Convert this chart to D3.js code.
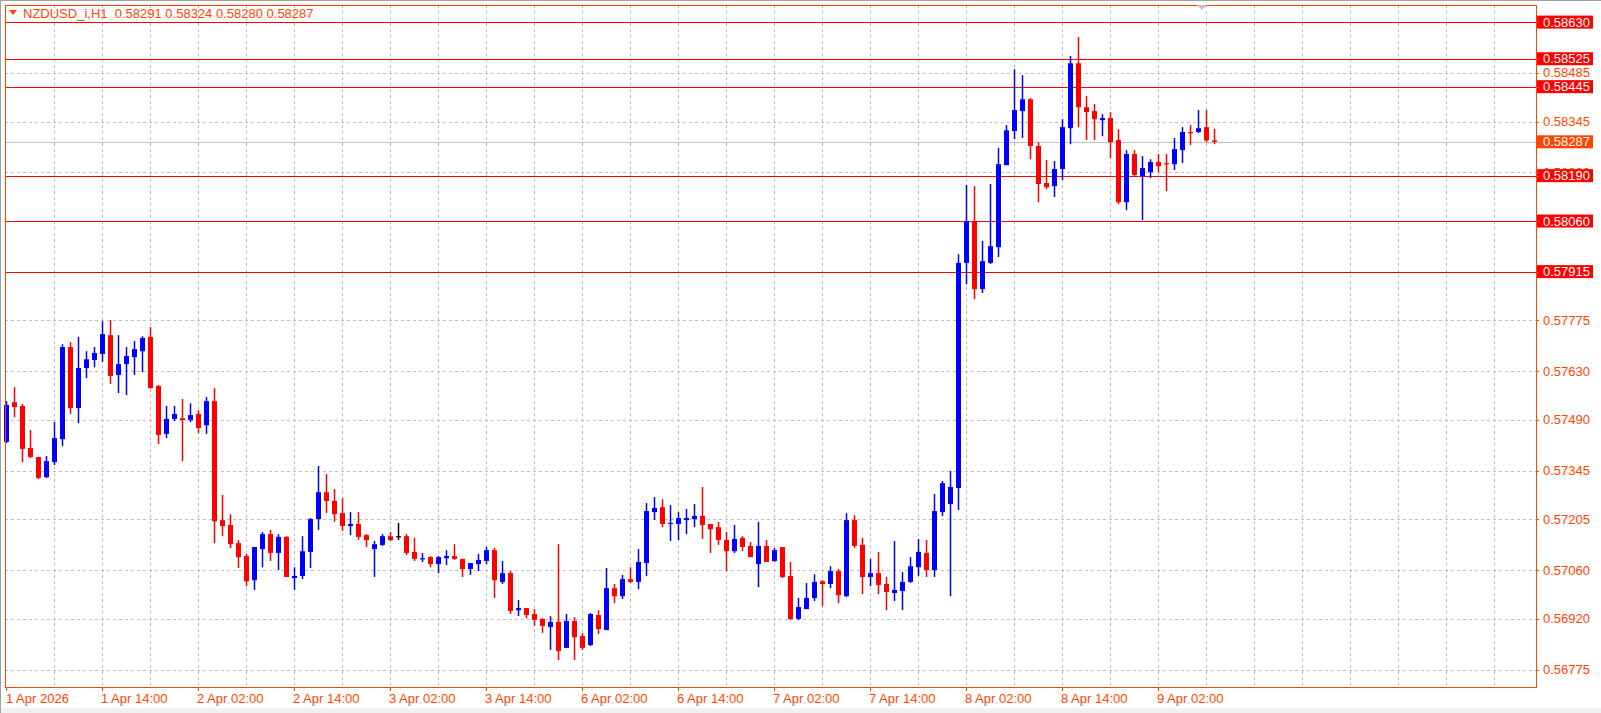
<!DOCTYPE html>
<html><head><meta charset="utf-8">
<script src="https://cdn.jsdelivr.net/npm/d3@7"></script>
<style>body{margin:0;background:#fff}svg{display:block}</style></head>
<body><svg id="c" width="1601" height="713"></svg>
<script>
const opens=[0.57427,0.57541,0.57530,0.57410,0.57384,0.57326,0.57369,0.57435,0.57699,0.57524,0.57639,0.57662,0.57679,0.57733,0.57619,0.57650,0.57670,0.57687,0.57728,0.57587,0.57450,0.57493,0.57495,0.57490,0.57507,0.57475,0.57544,0.57203,0.57189,0.57137,0.57100,0.57031,0.57120,0.57163,0.57109,0.57155,0.57037,0.57043,0.57112,0.57206,0.57283,0.57258,0.57223,0.57186,0.57192,0.57160,0.57120,0.57132,0.57157,0.57157,0.57157,0.57112,0.57092,0.57097,0.57077,0.57094,0.57100,0.57092,0.57063,0.57077,0.57086,0.57117,0.57026,0.57051,0.56945,0.56951,0.56934,0.56920,0.56897,0.56911,0.56837,0.56914,0.56871,0.56845,0.56931,0.56888,0.57008,0.56985,0.57034,0.57026,0.57080,0.57226,0.57240,0.57192,0.57192,0.57203,0.57206,0.57215,0.57192,0.57183,0.57146,0.57114,0.57152,0.57129,0.57077,0.57129,0.57086,0.57126,0.57043,0.56920,0.56948,0.56980,0.57028,0.57020,0.57057,0.56985,0.57203,0.57132,0.57040,0.57051,0.57020,0.56994,0.57000,0.57026,0.57068,0.57109,0.57060,0.57226,0.57249,0.57295,0.57940,0.58060,0.57865,0.57940,0.57985,0.58220,0.58318,0.58375,0.58409,0.58275,0.58169,0.58160,0.58209,0.58326,0.58512,0.58386,0.58375,0.58349,0.58355,0.58292,0.58114,0.58252,0.58189,0.58200,0.58229,0.58226,0.58223,0.58263,0.58315,0.58315,0.58329,0.58291];
const highs=[0.57544,0.57584,0.57536,0.57461,0.57384,0.57387,0.57484,0.57707,0.57713,0.57728,0.57687,0.57699,0.57773,0.57776,0.57733,0.57699,0.57716,0.57730,0.57756,0.57590,0.57530,0.57530,0.57550,0.57538,0.57518,0.57556,0.57581,0.57275,0.57220,0.57146,0.57106,0.57126,0.57169,0.57175,0.57163,0.57157,0.57068,0.57157,0.57209,0.57358,0.57335,0.57292,0.57266,0.57226,0.57226,0.57163,0.57143,0.57163,0.57169,0.57195,0.57163,0.57152,0.57109,0.57100,0.57100,0.57117,0.57134,0.57092,0.57080,0.57106,0.57126,0.57123,0.57086,0.57057,0.56974,0.56951,0.56948,0.56922,0.56928,0.57134,0.56934,0.56925,0.56880,0.56937,0.56945,0.57066,0.57020,0.57046,0.57068,0.57120,0.57252,0.57269,0.57263,0.57246,0.57226,0.57235,0.57249,0.57298,0.57192,0.57198,0.57169,0.57189,0.57157,0.57140,0.57198,0.57146,0.57123,0.57126,0.57083,0.56980,0.57023,0.57048,0.57031,0.57071,0.57063,0.57223,0.57217,0.57152,0.57092,0.57112,0.57040,0.57143,0.57054,0.57097,0.57149,0.57146,0.57278,0.57315,0.57344,0.57965,0.58163,0.58160,0.58003,0.58166,0.58269,0.58335,0.58495,0.58478,0.58412,0.58286,0.58235,0.58232,0.58352,0.58533,0.58587,0.58418,0.58395,0.58366,0.58372,0.58323,0.58263,0.58263,0.58246,0.58237,0.58252,0.58252,0.58298,0.58329,0.58335,0.58378,0.58378,0.58324];
const lows=[0.57424,0.57498,0.57369,0.57381,0.57321,0.57324,0.57361,0.57415,0.57507,0.57481,0.57610,0.57641,0.57656,0.57593,0.57567,0.57561,0.57619,0.57627,0.57581,0.57421,0.57438,0.57487,0.57372,0.57484,0.57452,0.57450,0.57137,0.57157,0.57123,0.57066,0.57014,0.57003,0.57068,0.57086,0.57060,0.57040,0.57003,0.57034,0.57066,0.57175,0.57223,0.57198,0.57172,0.57160,0.57146,0.57126,0.57040,0.57129,0.57143,0.57146,0.57103,0.57086,0.57083,0.57068,0.57051,0.57074,0.57089,0.57040,0.57046,0.57057,0.57077,0.56980,0.57020,0.56934,0.56928,0.56922,0.56900,0.56880,0.56831,0.56802,0.56837,0.56802,0.56831,0.56842,0.56877,0.56888,0.56965,0.56977,0.57023,0.57005,0.57043,0.57203,0.57183,0.57143,0.57146,0.57163,0.57183,0.57149,0.57109,0.57132,0.57057,0.57109,0.57114,0.57097,0.57011,0.57083,0.57083,0.57037,0.56917,0.56917,0.56948,0.56971,0.56957,0.57008,0.56965,0.56983,0.57123,0.56991,0.57014,0.56991,0.56945,0.56971,0.56945,0.57023,0.57043,0.57040,0.57040,0.57215,0.56985,0.57232,0.57879,0.57836,0.57854,0.57937,0.57957,0.58220,0.58295,0.58298,0.58237,0.58114,0.58151,0.58129,0.58177,0.58280,0.58329,0.58292,0.58292,0.58303,0.58240,0.58108,0.58091,0.58189,0.58063,0.58183,0.58200,0.58146,0.58206,0.58226,0.58278,0.58312,0.58286,0.58280];
const closes=[0.57533,0.57527,0.57407,0.57384,0.57324,0.57372,0.57438,0.57699,0.57524,0.57639,0.57664,0.57682,0.57736,0.57616,0.57650,0.57673,0.57693,0.57725,0.57581,0.57447,0.57493,0.57507,0.57490,0.57504,0.57467,0.57544,0.57200,0.57186,0.57134,0.57097,0.57028,0.57126,0.57163,0.57109,0.57155,0.57040,0.57043,0.57114,0.57206,0.57283,0.57258,0.57220,0.57186,0.57192,0.57155,0.57146,0.57134,0.57157,0.57146,0.57157,0.57109,0.57092,0.57094,0.57077,0.57097,0.57100,0.57092,0.57063,0.57080,0.57089,0.57117,0.57031,0.57051,0.56943,0.56951,0.56931,0.56917,0.56900,0.56911,0.56828,0.56914,0.56868,0.56837,0.56934,0.56891,0.57008,0.56985,0.57034,0.57026,0.57083,0.57229,0.57238,0.57192,0.57195,0.57209,0.57209,0.57215,0.57189,0.57177,0.57146,0.57114,0.57149,0.57126,0.57097,0.57129,0.57083,0.57117,0.57040,0.56920,0.56954,0.56980,0.57026,0.57020,0.57057,0.56988,0.57203,0.57129,0.57040,0.57051,0.57017,0.56997,0.57003,0.57026,0.57071,0.57112,0.57060,0.57229,0.57309,0.57298,0.57940,0.58060,0.57865,0.57945,0.57988,0.58223,0.58320,0.58378,0.58409,0.58275,0.58166,0.58157,0.58209,0.58329,0.58512,0.58386,0.58372,0.58352,0.58355,0.58286,0.58114,0.58252,0.58192,0.58212,0.58229,0.58217,0.58224,0.58266,0.58315,0.58312,0.58326,0.58291,0.58287];
const timeLabels=["1 Apr 2026","1 Apr 14:00","2 Apr 02:00","2 Apr 14:00","3 Apr 02:00","3 Apr 14:00","6 Apr 02:00","6 Apr 14:00","7 Apr 02:00","7 Apr 14:00","8 Apr 02:00","8 Apr 14:00","9 Apr 02:00"];
const priceTicks=[0.58485,0.58345,0.58200,0.58060,0.57915,0.57775,0.57630,0.57490,0.57345,0.57205,0.57060,0.56920,0.56775];
const levels=[0.58630,0.58525,0.58445,0.58190,0.58060,0.57915];
const lastPrice=0.58287;
const header="NZDUSD_i,H1  0.58291 0.58324 0.58280 0.58287";

const svg=d3.select("#c");
const L=5,R=1536,T=5,B=687,OR="#ff4500",FONT="'Liberation Sans', Arial, sans-serif",FS=13;
const n=closes.length;
const x=d3.scaleLinear().domain([0,n-1]).range([6,6+8*(n-1)]);
const y=d3.scaleLinear().domain([0.56775,0.58485]).range([669.5,72.7]);
svg.append("rect").attr("x",0).attr("y",0).attr("width",1601).attr("height",713).attr("fill","#fff");
svg.append("rect").attr("x",0).attr("y",708).attr("width",1601).attr("height",5).attr("fill","#f0f0f0");
svg.append("line").attr("x1",0).attr("x2",1601).attr("y1",0.5).attr("y2",0.5).attr("stroke","#a0a0a0");
svg.append("line").attr("x1",0.5).attr("x2",0.5).attr("y1",0).attr("y2",713).attr("stroke","#a0a0a0");
const g=svg.append("g");
const vIdx=d3.range(6,200,6).filter(i=>x(i)<R-2);
g.selectAll(".vg").data(vIdx).join("line").attr("x1",d=>Math.round(x(d))+0.5).attr("x2",d=>Math.round(x(d))+0.5)
 .attr("y1",T).attr("y2",B).attr("stroke","#c0c0c0").attr("stroke-dasharray","3,3");
g.selectAll(".hg").data(priceTicks).join("line").attr("x1",L).attr("x2",R).attr("y1",d=>Math.round(y(d))+0.5).attr("y2",d=>Math.round(y(d))+0.5)
 .attr("stroke","#c0c0c0").attr("stroke-dasharray","3,3");
g.append("line").attr("x1",L).attr("x2",R).attr("y1",Math.round(y(lastPrice))+0.5).attr("y2",Math.round(y(lastPrice))+0.5).attr("stroke","#c0c0c0");
g.selectAll(".lv").data(levels).join("line").attr("x1",L).attr("x2",R).attr("y1",d=>Math.round(y(d))+0.5).attr("y2",d=>Math.round(y(d))+0.5).attr("stroke","#ff0000");
const idx=d3.range(n);
const col=i=>closes[i]>opens[i]?"#0000ff":(closes[i]<opens[i]?"#ff0000":"#000000");
g.selectAll(".wk").data(idx).join("line").attr("x1",i=>Math.round(x(i))+0.5).attr("x2",i=>Math.round(x(i))+0.5)
 .attr("y1",i=>y(highs[i])).attr("y2",i=>y(lows[i])).attr("stroke",col).attr("stroke-width",1.5);
g.selectAll(".bd").data(idx).join("rect").attr("x",i=>Math.round(x(i))-2).attr("width",5)
 .attr("y",i=>Math.min(y(opens[i]),y(closes[i]))).attr("height",i=>Math.max(1.2,Math.abs(y(opens[i])-y(closes[i]))))
 .attr("fill",col);
svg.append("rect").attr("x",L+0.5).attr("y",T+0.5).attr("width",R-L).attr("height",B-T).attr("fill","none").attr("stroke",OR);
const hidden=v=>levels.some(l=>Math.abs(y(l)-y(v))<12)||Math.abs(y(lastPrice)-y(v))<12;
svg.selectAll(".pt").data(priceTicks.filter(v=>!hidden(v)||v===0.58200)).join("text").attr("x",1543).attr("y",d=>y(d)+4.5)
 .text(d=>d.toFixed(5)).attr("fill",OR).attr("font-family",FONT).attr("font-size",FS);
svg.selectAll(".lb").data(levels).join("rect").attr("x",1537).attr("y",d=>y(d)-6.5).attr("width",56).attr("height",13).attr("fill","#ff0000");
svg.selectAll(".lt").data(levels).join("text").attr("x",1543).attr("y",d=>y(d)+4.5).text(d=>d.toFixed(5)).attr("fill","#fff").attr("font-family",FONT).attr("font-size",FS);
svg.append("rect").attr("x",1537).attr("y",y(lastPrice)-6.5).attr("width",56).attr("height",13).attr("fill",OR);
svg.append("text").attr("x",1543).attr("y",y(lastPrice)+4.5).text(lastPrice.toFixed(5)).attr("fill","#fff").attr("font-family",FONT).attr("font-size",FS);
svg.selectAll(".pk").data(priceTicks.concat(levels)).join("line").attr("x1",R).attr("x2",R+3).attr("y1",d=>Math.round(y(d))+0.5).attr("y2",d=>Math.round(y(d))+0.5).attr("stroke",OR);
const tIdx=timeLabels.map((t,k)=>k*12);
svg.selectAll(".tk").data(tIdx).join("line").attr("x1",d=>Math.round(x(d))+0.5).attr("x2",d=>Math.round(x(d))+0.5).attr("y1",B).attr("y2",B+4).attr("stroke",OR);
svg.selectAll(".tl").data(tIdx).join("text").attr("x",(d,k)=>k===0?6:Math.round(x(d))-1).attr("y",703).text((d,k)=>timeLabels[k])
 .attr("fill",OR).attr("font-family",FONT).attr("font-size",FS);
svg.append("path").attr("d","M9,10 L17,10 L13,15 Z").attr("fill",OR);
svg.append("text").attr("x",23).attr("y",18).text(header).style("white-space","pre").attr("fill",OR).attr("font-family",FONT).attr("font-size",FS);
svg.append("path").attr("d","M1197,5 L1207,5 L1202,10 Z").attr("fill","#c0c0c0");
</script></body></html>
